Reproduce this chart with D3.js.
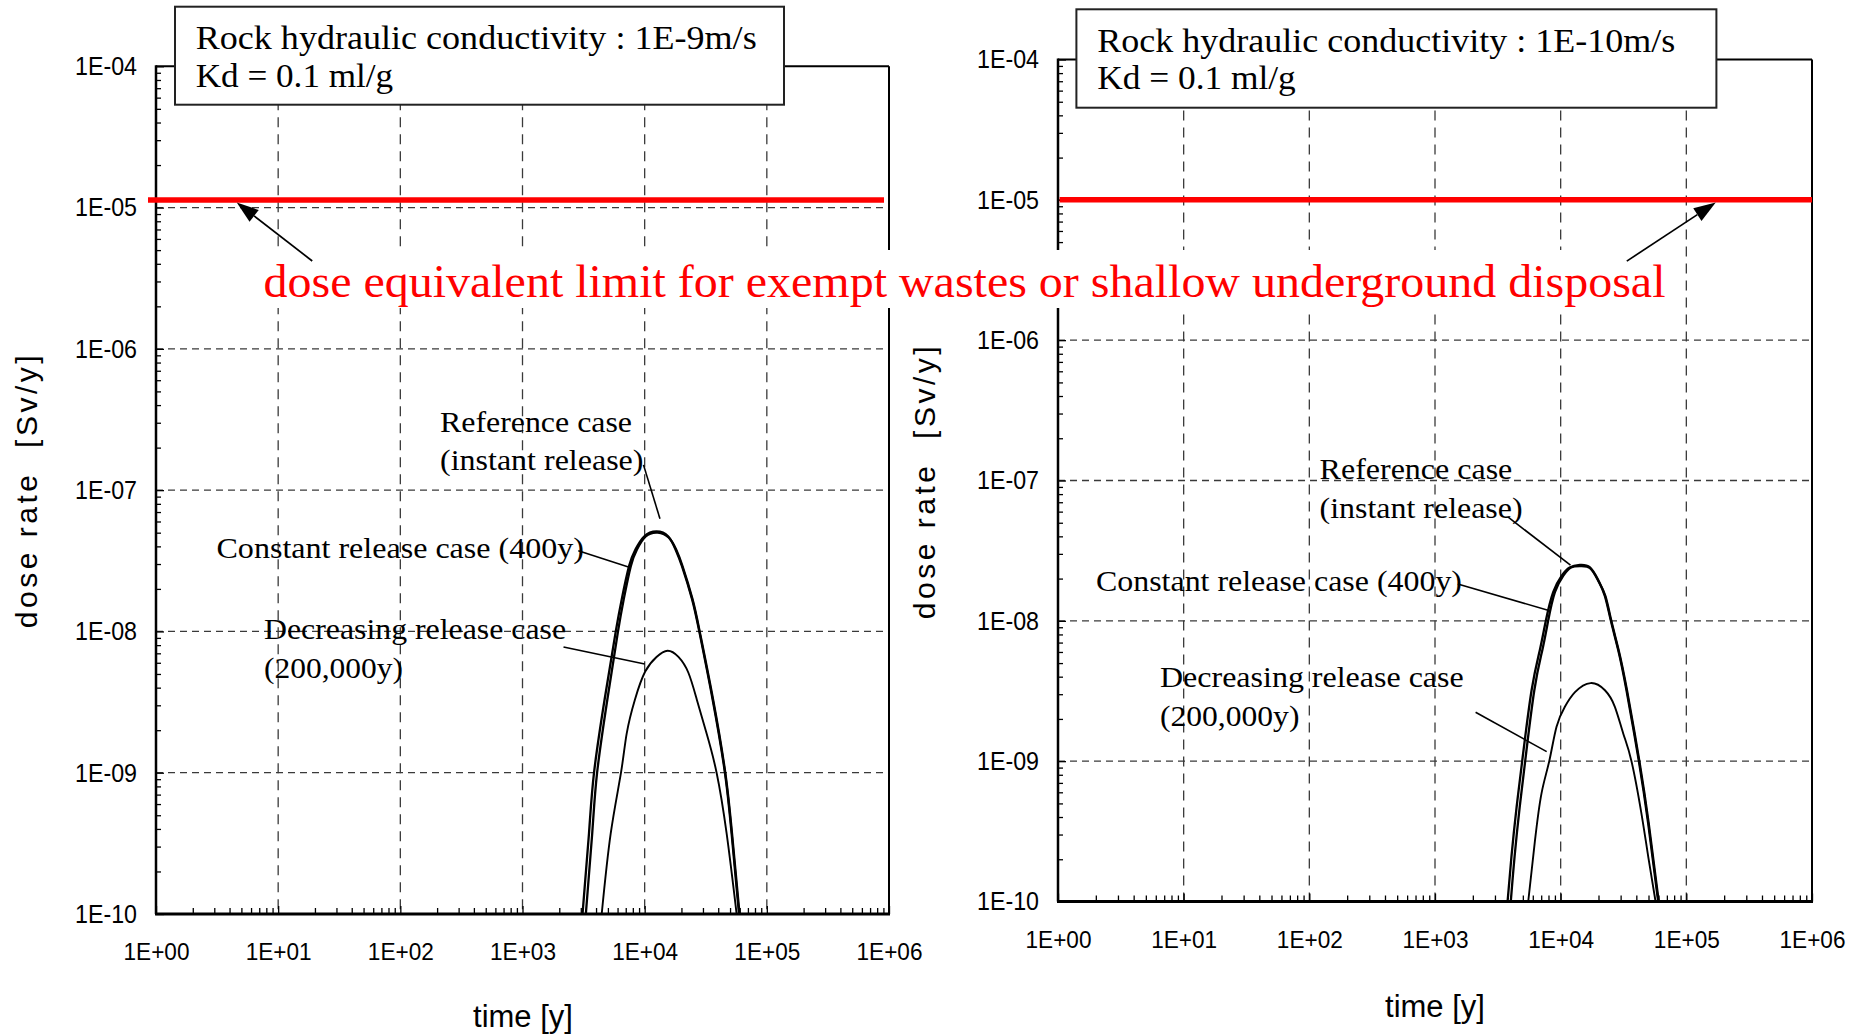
<!DOCTYPE html>
<html>
<head>
<meta charset="utf-8">
<script src="https://cdn.jsdelivr.net/npm/d3@7"></script>
<style>
  html, body { margin: 0; padding: 0; background: #fff; }
  svg { display: block; }
</style>
</head>
<body>
<svg id="chart" width="1851" height="1036"></svg>
<script>
// ---- axis ticks -----------------------------------------------------------
const xTickValues = [1, 10, 100, 1e3, 1e4, 1e5, 1e6];
const xTickLabels = ["1E+00", "1E+01", "1E+02", "1E+03", "1E+04", "1E+05", "1E+06"];
const yTickValues = [1e-10, 1e-9, 1e-8, 1e-7, 1e-6, 1e-5, 1e-4];
const yTickLabels = ["1E-10", "1E-09", "1E-08", "1E-07", "1E-06", "1E-05", "1E-04"];

// ---- rock hydraulic conductivity 1E-9 m/s (time [y], dose rate [Sv/y]) ----
const refTimeA   = [3100, 3500, 3850, 4700, 5800, 6500, 7450, 8400, 9900, 12500, 15600, 17900, 20200, 24400, 28000, 36000, 45400, 51500, 59200];
const refDoseA   = [1.0e-10, 3.7e-10, 1.0e-9, 3.3e-9, 1.0e-8, 1.7e-8, 2.9e-8, 3.8e-8, 4.7e-8, 5.1e-8, 4.7e-8, 3.8e-8, 2.9e-8, 1.7e-8, 1.0e-8, 3.3e-9, 1.0e-9, 3.7e-10, 1.0e-10];
const constTimeA = [3300, 3720, 4080, 4950, 6050, 6750, 7700, 8650, 10200, 12800, 15800, 18100, 20400, 24600, 28200, 36300, 45700, 51900, 59800];
const constDoseA = [1.0e-10, 3.7e-10, 1.0e-9, 3.3e-9, 1.0e-8, 1.7e-8, 2.9e-8, 3.8e-8, 4.7e-8, 5.0e-8, 4.6e-8, 3.8e-8, 2.9e-8, 1.7e-8, 1.0e-8, 3.3e-9, 1.0e-9, 3.7e-10, 1.0e-10];
const decTimeA   = [4450, 5270, 6400, 7130, 8330, 10100, 12500, 15400, 18900, 22800, 26700, 32100, 38800, 46900, 56600];
const decDoseA   = [1.0e-10, 3.7e-10, 1.0e-9, 1.9e-9, 3.3e-9, 5.2e-9, 6.6e-9, 7.3e-9, 6.6e-9, 5.1e-9, 3.3e-9, 1.9e-9, 1.0e-9, 3.7e-10, 1.0e-10];
const limitTimeA = [0.86, 910000];
const limitDoseA = 1.13e-5;

// ---- rock hydraulic conductivity 1E-10 m/s --------------------------------
const refTimeB   = [3780, 4060, 4460, 4940, 5870, 6830, 7620, 8720, 10200, 11800, 14200, 17100, 19900, 22500, 25100, 28700, 33400, 41900, 49700, 59700];
const refDoseB   = [1.0e-10, 2.1e-10, 4.7e-10, 1.0e-9, 3.2e-9, 6.2e-9, 1.0e-8, 1.6e-8, 2.1e-8, 2.4e-8, 2.5e-8, 2.4e-8, 1.95e-8, 1.5e-8, 1.0e-8, 6.2e-9, 3.2e-9, 1.0e-9, 3.6e-10, 1.0e-10];
const constTimeB = [4010, 4300, 4720, 5220, 6170, 7150, 7950, 9000, 10500, 12100, 14500, 17300, 20100, 22700, 25300, 28900, 33700, 42300, 50200, 60300];
const constDoseB = [1.0e-10, 2.1e-10, 4.7e-10, 1.0e-9, 3.2e-9, 6.2e-9, 1.0e-8, 1.6e-8, 2.1e-8, 2.4e-8, 2.45e-8, 2.35e-8, 1.9e-8, 1.5e-8, 1.0e-8, 6.2e-9, 3.2e-9, 1.0e-9, 3.6e-10, 1.0e-10];
const decTimeB   = [5520, 6240, 7040, 8110, 9270, 10800, 13000, 17300, 22500, 27000, 31500, 36600, 44000, 49700, 56900];
const decDoseB   = [1.0e-10, 2.7e-10, 5.9e-10, 1.0e-9, 1.76e-9, 2.44e-9, 3.1e-9, 3.6e-9, 3.2e-9, 2.44e-9, 1.57e-9, 1.0e-9, 4.2e-10, 2.1e-10, 1.0e-10];
const limitTimeB = [1.03, 1e6];
const limitDoseB = 1.0e-5;

// ---- text --------------------------------------------------------------------
const titleA = ["Rock hydraulic conductivity : 1E-9m/s", "Kd = 0.1 ml/g"];
const titleB = ["Rock hydraulic conductivity : 1E-10m/s", "Kd = 0.1 ml/g"];
const caseNames = ["Reference case", "(instant release)", "Constant release case (400y)", "Decreasing release case", "(200,000y)"];
const limitNote = "dose equivalent limit for exempt wastes or shallow underground disposal";
const yTitle = "dose rate  [Sv/y]";
const xTitle = "time [y]";

const zip = (ts, vs) => ts.map((t, i) => ({ t, v: vs[i] }));

const panels = [
  {
    id: "a",
    frame: { left: 156, right: 889, top: 66.3, bottom: 914 },
    title: titleA,
    titleBox: { x: 175, y: 6.7, w: 609, h: 98, tx: 195.7, ty: [49, 87.3], len: [561, 197.5] },
    series: [
      { data: zip(refTimeA, refDoseA), width: 2.3 },
      { data: zip(constTimeA, constDoseA), width: 2.3 },
      { data: zip(decTimeA, decDoseA), width: 1.9 }
    ],
    limit: { t: limitTimeA, v: limitDoseA },
    arrow: { from: [19.0, 4.19e-6], to: [4.58, 1.087e-5] },
    notes: [
      { x: 440, y: 431.7, len: 192 },
      { x: 440, y: 470, len: 203.5 },
      { x: 216.5, y: 558, len: 367.5 },
      { x: 264, y: 638.5, len: 302 },
      { x: 264, y: 677.8, len: 139 }
    ],
    leaders: [
      [9780, 1.51e-7, 13340, 6.28e-8],
      [2863, 3.72e-8, 7585, 2.84e-8],
      [2166, 7.76e-9, 10000, 5.89e-9]
    ],
    yTitlePos: { x: 37, y: 490 },
    xTitlePos: { x: 523, y: 1026.5 }
  },
  {
    id: "b",
    frame: { left: 1058, right: 1812, top: 59.5, bottom: 901.5 },
    title: titleB,
    titleBox: { x: 1076.4, y: 9.3, w: 640, h: 98.4, tx: 1097.2, ty: [51.7, 89.3], len: [578, 198.6] },
    series: [
      { data: zip(refTimeB, refDoseB), width: 2.3 },
      { data: zip(constTimeB, constDoseB), width: 2.3 },
      { data: zip(decTimeB, decDoseB), width: 1.9 }
    ],
    limit: { t: limitTimeB, v: limitDoseB },
    arrow: { from: [33600, 3.66e-6], to: [171400, 9.57e-6] },
    notes: [
      { x: 1319.6, y: 479, len: 192.7 },
      { x: 1319.6, y: 518, len: 203 },
      { x: 1096, y: 591, len: 366 },
      { x: 1160, y: 686.5, len: 303.7 },
      { x: 1160, y: 725.8, len: 139.4 }
    ],
    leaders: [
      [3822, 5.48e-8, 11970, 2.49e-8],
      [1518, 1.83e-8, 8180, 1.18e-8],
      [2104, 2.23e-9, 7740, 1.17e-9]
    ],
    yTitlePos: { x: 935, y: 481 },
    xTitlePos: { x: 1435, y: 1017 }
  }
];

const svg = d3.select("#chart");
const SERIF = "'Liberation Serif', 'Times New Roman', serif";
const SANS = "'Liberation Sans', Arial, sans-serif";

// minor tick values: 2..9 within each decade
const minorX = [];
for (let e = 0; e < 6; e++) for (let k = 2; k <= 9; k++) minorX.push(k * Math.pow(10, e));
const minorY = [];
for (let e = -10; e < -4; e++) for (let k = 2; k <= 9; k++) minorY.push(k * Math.pow(10, e));

const labelOf = (vals, labels) => v => labels[vals.findIndex(d => Math.abs(Math.log10(d) - Math.log10(v)) < 1e-6)];

panels.forEach(p => {
  const f = p.frame;
  const x = d3.scaleLog().domain([1, 1e6]).range([f.left, f.right]);
  const y = d3.scaleLog().domain([1e-10, 1e-4]).range([f.bottom, f.top]);
  const g = svg.append("g").attr("class", "panel-" + p.id);

  // dashed grid
  g.append("g").selectAll("line").data(yTickValues.slice(1, -1)).join("line")
    .attr("x1", f.left).attr("x2", f.right)
    .attr("y1", d => y(d)).attr("y2", d => y(d))
    .attr("stroke", "#3a3a3a").attr("stroke-width", 1.3).attr("stroke-dasharray", "7,5");
  g.append("g").selectAll("line").data(xTickValues.slice(1, -1)).join("line")
    .attr("x1", d => x(d)).attr("x2", d => x(d))
    .attr("y1", f.top).attr("y2", f.bottom)
    .attr("stroke", "#3a3a3a").attr("stroke-width", 1.3).attr("stroke-dasharray", "10,7");

  // ticks and labels
  const yAxis = g.append("g").attr("transform", `translate(${f.left},0)`)
    .call(d3.axisLeft(y).tickValues(yTickValues).tickFormat(labelOf(yTickValues, yTickLabels))
      .tickSize(-8).tickSizeOuter(0).tickPadding(19));
  const yMinor = g.append("g").attr("transform", `translate(${f.left},0)`)
    .call(d3.axisLeft(y).tickValues(minorY).tickFormat("").tickSize(-5).tickSizeOuter(0));
  const xAxis = g.append("g").attr("transform", `translate(0,${f.bottom})`)
    .call(d3.axisBottom(x).tickValues(xTickValues).tickFormat(labelOf(xTickValues, xTickLabels))
      .tickSize(-8).tickSizeOuter(0).tickPadding(29));
  const xMinor = g.append("g").attr("transform", `translate(0,${f.bottom})`)
    .call(d3.axisBottom(x).tickValues(minorX).tickFormat("").tickSize(-6).tickSizeOuter(0));
  [yAxis, yMinor, xAxis, xMinor].forEach(a => {
    a.select(".domain").remove();
    a.selectAll(".tick line").attr("stroke", "#000").attr("stroke-width", 1.3);
    a.selectAll(".tick text").attr("font-family", SANS).attr("fill", "#000");
  });
  // narrow tick lettering
  yAxis.selectAll(".tick text").attr("font-size", 26).attr("textLength", 62).attr("lengthAdjust", "spacingAndGlyphs");
  xAxis.selectAll(".tick text").attr("font-size", 24).attr("textLength", 66).attr("lengthAdjust", "spacingAndGlyphs");

  // frame
  const frame = g.append("g").attr("stroke", "#000").attr("fill", "none");
  frame.append("line").attr("x1", f.left).attr("x2", f.right).attr("y1", f.top).attr("y2", f.top).attr("stroke-width", 2);
  frame.append("line").attr("x1", f.right).attr("x2", f.right).attr("y1", f.top).attr("y2", f.bottom).attr("stroke-width", 2);
  frame.append("line").attr("x1", f.left).attr("x2", f.left).attr("y1", f.top - 1).attr("y2", f.bottom).attr("stroke-width", 2.5);
  frame.append("line").attr("x1", f.left - 1).attr("x2", f.right + 1).attr("y1", f.bottom).attr("y2", f.bottom).attr("stroke-width", 3);

  // dose curves
  g.append("clipPath").attr("id", "clip-" + p.id).append("rect")
    .attr("x", f.left).attr("y", f.top).attr("width", f.right - f.left).attr("height", f.bottom - f.top);
  const line = d3.line().x(d => x(d.t)).y(d => y(d.v)).curve(d3.curveNatural);
  g.append("g").attr("clip-path", `url(#clip-${p.id})`)
    .selectAll("path").data(p.series).join("path")
    .attr("d", s => line(s.data))
    .attr("fill", "none").attr("stroke", "#000").attr("stroke-width", s => s.width)
    .attr("stroke-linejoin", "round");

  // dose limit line
  g.append("line")
    .attr("x1", x(p.limit.t[0])).attr("x2", x(p.limit.t[1]))
    .attr("y1", y(p.limit.v)).attr("y2", y(p.limit.v))
    .attr("stroke", "#ff0000").attr("stroke-width", 5.5);

  // title box
  const tb = p.titleBox;
  g.append("rect").attr("x", tb.x).attr("y", tb.y).attr("width", tb.w).attr("height", tb.h)
    .attr("fill", "#fff").attr("stroke", "#222").attr("stroke-width", 2);
  p.title.forEach((t, i) => {
    g.append("text").attr("x", tb.tx).attr("y", tb.ty[i])
      .attr("font-family", SERIF).attr("font-size", 33).attr("fill", "#000")
      .attr("textLength", tb.len[i]).attr("lengthAdjust", "spacingAndGlyphs")
      .text(t);
  });

  // case labels with leader lines
  g.append("g").selectAll("line").data(p.leaders).join("line")
    .attr("x1", d => x(d[0])).attr("y1", d => y(d[1]))
    .attr("x2", d => x(d[2])).attr("y2", d => y(d[3]))
    .attr("stroke", "#000").attr("stroke-width", 1.6);
  p.notes.forEach((n, i) => {
    g.append("text").attr("x", n.x).attr("y", n.y)
      .attr("font-family", SERIF).attr("font-size", 30).attr("fill", "#000")
      .attr("textLength", n.len).attr("lengthAdjust", "spacingAndGlyphs")
      .text(caseNames[i]);
  });

  // axis titles
  g.append("text")
    .attr("transform", `translate(${p.yTitlePos.x},${p.yTitlePos.y}) rotate(-90)`)
    .attr("text-anchor", "middle").attr("font-family", SANS).attr("font-size", 30)
    .attr("letter-spacing", 3.5).attr("xml:space", "preserve").style("white-space", "pre")
    .text(yTitle);
  g.append("text").attr("x", p.xTitlePos.x).attr("y", p.xTitlePos.y)
    .attr("text-anchor", "middle").attr("font-family", SANS).attr("font-size", 31)
    .text(xTitle);

  p.scales = { x, y };
});

// banner note for the dose limit, on a white band
const band = svg.append("g");
band.append("rect").attr("x", 258).attr("y", 250).attr("width", 1414).attr("height", 58).attr("fill", "#fff");
band.append("text").attr("x", 263.5).attr("y", 296.5)
  .attr("font-family", SERIF).attr("font-size", 46).attr("fill", "#ff0000")
  .attr("textLength", 1402).attr("lengthAdjust", "spacingAndGlyphs")
  .text(limitNote);

// arrows pointing at the limit lines
panels.forEach(p => {
  const { x, y } = p.scales;
  const x1 = x(p.arrow.from[0]), y1 = y(p.arrow.from[1]);
  const x2 = x(p.arrow.to[0]), y2 = y(p.arrow.to[1]);
  const len = Math.hypot(x2 - x1, y2 - y1);
  const ux = (x2 - x1) / len, uy = (y2 - y1) / len;
  const headLen = 22, half = 7.5;
  const bx = x2 - ux * headLen, by = y2 - uy * headLen;
  band.append("line").attr("x1", x1).attr("y1", y1).attr("x2", bx).attr("y2", by)
    .attr("stroke", "#000").attr("stroke-width", 1.7);
  band.append("path")
    .attr("d", d3.line()([[x2, y2], [bx - uy * half, by + ux * half], [bx + uy * half, by - ux * half]]) + "Z")
    .attr("fill", "#000");
});
</script>
</body>
</html>
